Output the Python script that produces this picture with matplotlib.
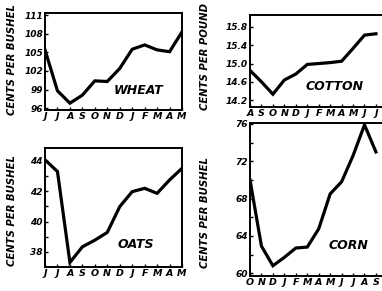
import matplotlib
matplotlib.use("Agg")
import matplotlib.pyplot as plt
import numpy as np

# ---- data ----
wheat_months = ["J", "J", "A", "S", "O", "N", "D", "J", "F", "M", "A", "M"]
wheat_values = [105.4, 98.8, 96.8, 98.1, 100.4, 100.3, 102.4, 105.5, 106.2, 105.4, 105.1, 108.3]
wheat_ticks = [96, 99, 102, 105, 108, 111]

cotton_months = ["A", "S", "O", "N", "D", "J", "F", "M", "A", "M", "J", "J"]
cotton_values = [14.85, 14.6, 14.33, 14.64, 14.77, 14.98, 15.0, 15.02, 15.05, 15.33, 15.62, 15.65]
cotton_ticks = [14.2, 14.6, 15.0, 15.4, 15.8]

oats_months = ["J", "J", "A", "S", "O", "N", "D", "J", "F", "M", "A", "M"]
oats_values = [44.07, 43.3, 37.3, 38.33, 38.77, 39.28, 40.98, 41.97, 42.19, 41.86, 42.74, 43.51]
oats_ticks = [38, 40, 42, 44]

corn_months = ["O", "N", "D", "J", "F", "M", "A", "M", "J", "J", "A", "S"]
corn_values = [70.0, 62.9, 60.8, 61.7, 62.7, 62.8, 64.75, 68.5, 69.8, 72.6, 75.9, 73.0]
corn_ticks = [60, 64, 68, 72, 76]

W, H = 382, 291
fig = plt.figure(figsize=(W / 100, H / 100), dpi=100)
fig.patch.set_facecolor("white")

FONT = dict(family="DejaVu Sans", weight="bold", style="italic")


def px_axes(l, r, t, b):
    return fig.add_axes([l / W, 1 - b / H, (r - l) / W, (b - t) / H])


def style(ax, months, values, ticks, ylim, xmax, name, name_xy, fmt="%g", minor=None):
    x = np.arange(len(values))
    ax.plot(x, values, color="black", lw=2.3, solid_joinstyle="miter")
    ax.set_xlim(0, xmax)
    ax.set_ylim(*ylim)
    ax.set_xticks(x)
    ax.set_xticklabels(months, fontsize=6.8, **FONT)
    ax.set_yticks(ticks)
    ax.set_yticklabels([(fmt % t) for t in ticks], fontsize=6.5, **FONT)
    if minor is not None:
        ax.set_yticks(minor, minor=True)
    ax.tick_params(direction="in", length=2.5, width=1, pad=1.5, colors="black")
    ax.tick_params(which="minor", direction="in", length=2, width=1)
    for s in ax.spines.values():
        s.set_linewidth(1.4)
    ax.text(name_xy[0], name_xy[1], name, transform=ax.transAxes, fontsize=9,
            ha="left", va="center", **FONT)


SP = 11.45  # px per month in right-hand panels

ax1 = px_axes(45, 182, 13.3, 110)
style(ax1, wheat_months, wheat_values, wheat_ticks, (95.7, 111.3), 11, "WHEAT", (0.5, 0.2))

ax2 = px_axes(250, 250 + SP * 11.8, 15, 107)
style(ax2, cotton_months, cotton_values, cotton_ticks, (14.05, 16.06), 11.8, "COTTON",
      (0.41, 0.22), fmt="%.1f")

ax3 = px_axes(45, 182, 148, 267)
style(ax3, oats_months, oats_values, oats_ticks, (37.0, 44.85), 11, "OATS", (0.53, 0.19),
      minor=[39, 41, 43])

ax4 = px_axes(250, 250 + SP * 11.8, 123, 276)
style(ax4, corn_months, corn_values, corn_ticks, (59.7, 76.1), 11.8, "CORN", (0.58, 0.2),
      minor=[62, 66, 70, 74])

fig.text(12 / W, 1 - 60 / H, "CENTS PER BUSHEL", rotation=90, ha="center", va="center",
         fontsize=7.3, **FONT)
fig.text(12 / W, 1 - 210 / H, "CENTS PER BUSHEL", rotation=90, ha="center", va="center",
         fontsize=7.3, **FONT)
fig.text(205 / W, 1 - 57 / H, "CENTS PER POUND", rotation=90, ha="center", va="center",
         fontsize=7.3, **FONT)
fig.text(205 / W, 1 - 213 / H, "CENTS PER BUSHEL", rotation=90, ha="center", va="center",
         fontsize=7.3, **FONT)

fig.savefig("out.png", dpi=100, facecolor="white")
